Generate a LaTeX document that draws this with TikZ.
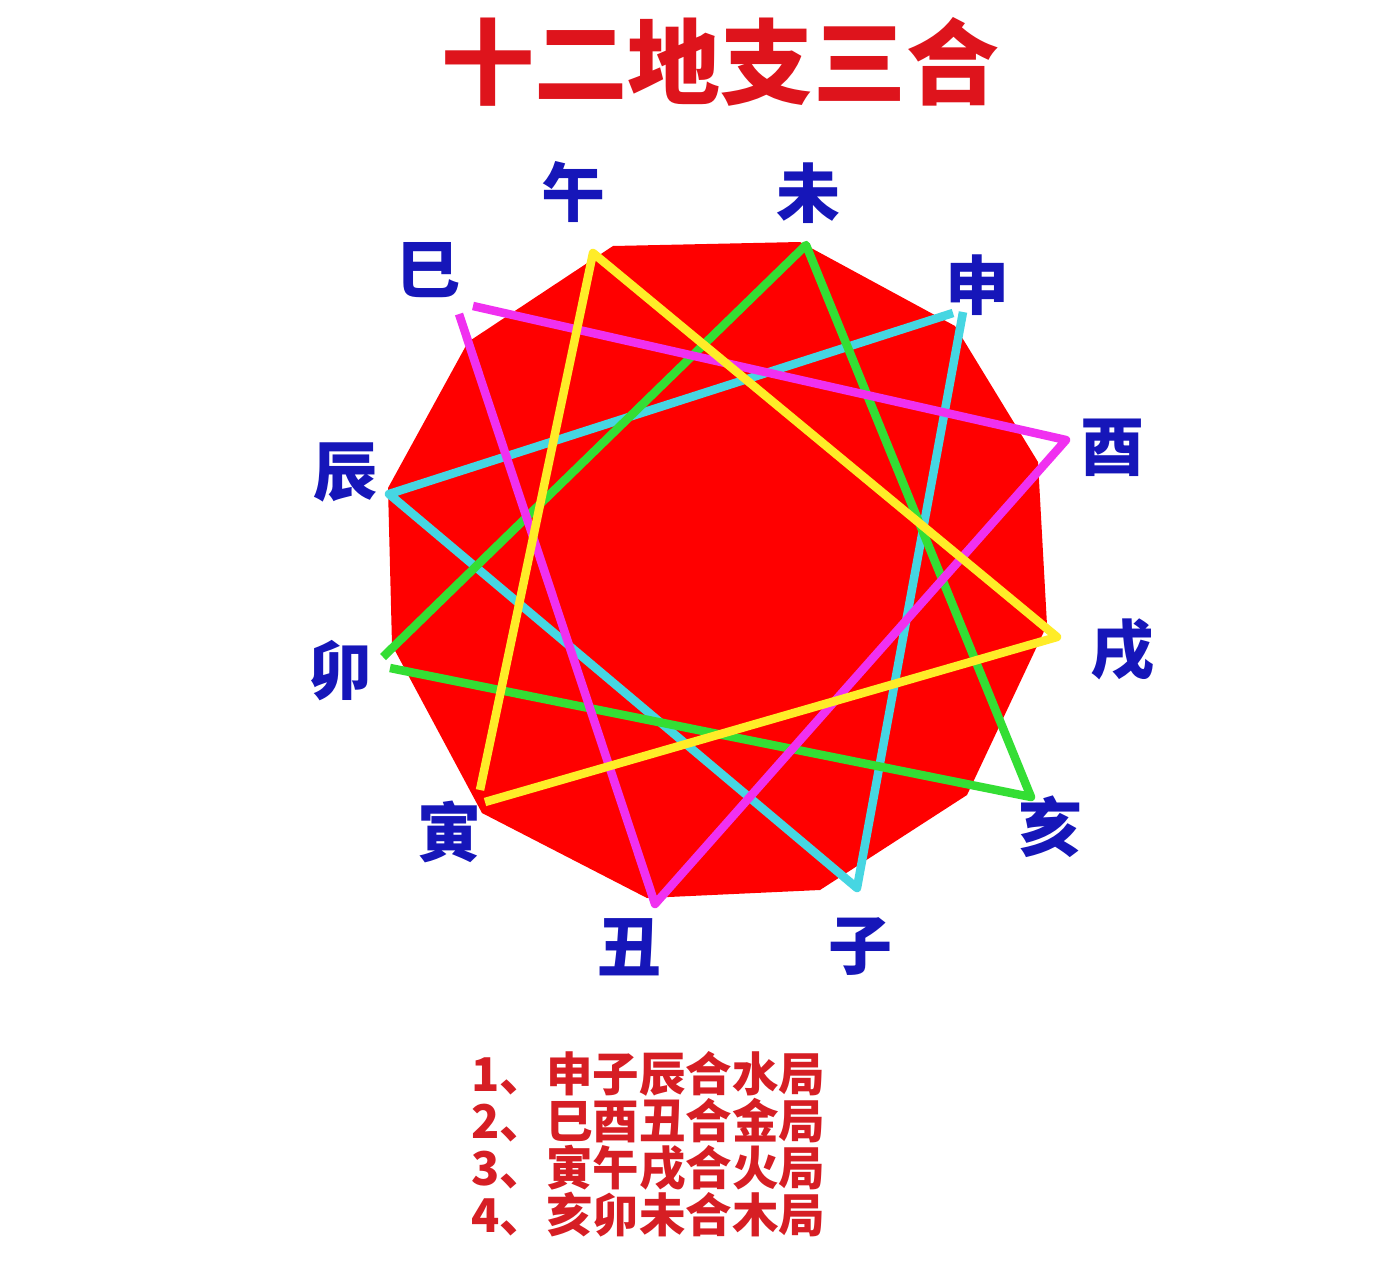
\documentclass[tikz,border=0pt]{standalone}
\usepackage{fontspec}
\newfontfamily\cjk{Noto Sans CJK SC}
\definecolor{polyred}{RGB}{255,0,0}
\definecolor{titlered}{RGB}{222,20,28}
\definecolor{listred}{RGB}{214,30,36}
\definecolor{labelblue}{RGB}{22,22,185}
\definecolor{watercyan}{RGB}{70,214,226}
\definecolor{metalmag}{RGB}{240,48,240}
\definecolor{fireyel}{RGB}{255,236,40}
\definecolor{woodgreen}{RGB}{52,222,52}
\tikzset{
  branch/.style={font=\cjk\bfseries\fontsize{64}{64}\selectfont, text=labelblue, inner sep=0pt, anchor=center},
  trine/.style={line width=8.5pt, line join=round},
  listline/.style={font=\cjk\bfseries\fontsize{46.5}{46.5}\selectfont, text=listred, inner sep=0pt, anchor=west}
}
\begin{document}
\begin{tikzpicture}[x=1pt,y=-1pt]
\fill[white] (0,0) rectangle (1394,1266);
\useasboundingbox (0,0) rectangle (1394,1266);
% title
\node[font=\cjk\bfseries\fontsize{93}{93}\selectfont, text=titlered, inner sep=0pt] (title) at (720,62) {十二地支三合};
% dodecagon
\coordinate (pA) at (613,246);
\coordinate (pB) at (800,242);
\coordinate (pC) at (955,326);
\coordinate (pD) at (1038,462);
\coordinate (pE) at (1047,625);
\coordinate (pF) at (967,795);
\coordinate (pG) at (820,890);
\coordinate (pH) at (647,898);
\coordinate (pI) at (482,813);
\coordinate (pJ) at (392,645);
\coordinate (pK) at (388,488);
\coordinate (pL) at (468,342);
\fill[polyred] (pA) -- (pB) -- (pC) -- (pD) -- (pE) -- (pF) -- (pG) -- (pH) -- (pI) -- (pJ) -- (pK) -- (pL) -- cycle;
% apex points
\coordinate (wu) at (593,253);
\coordinate (wei) at (806,245);
\coordinate (shenA) at (953,313);
\coordinate (shenB) at (963,312);
\coordinate (you) at (1066,440);
\coordinate (xu) at (1057,637);
\coordinate (hai) at (1031,797);
\coordinate (zi) at (857,888);
\coordinate (chou) at (655,904);
\coordinate (yinA) at (480,790);
\coordinate (yinB) at (485,802);
\coordinate (maoA) at (383,657);
\coordinate (maoB) at (390,668);
\coordinate (chen) at (389,494);
\coordinate (siA) at (473,306);
\coordinate (siB) at (459,314);
% water: shen-zi-chen
\draw[trine, watercyan] (shenB) -- (zi) -- (chen) -- (shenA);
% wood: hai-mao-wei
\draw[trine, woodgreen] (maoA) -- (wei) -- (hai) -- (maoB);
% metal: si-you-chou
\draw[trine, metalmag] (siA) -- (you) -- (chou) -- (siB);
% fire: yin-wu-xu
\draw[trine, fireyel] (yinA) -- (wu) -- (xu) -- (yinB);
% labels
\node[branch] (lwu) at (573,192) {午};
\node[branch] (lwei) at (808,193) {未};
\node[branch] (lsi) at (428,270) {巳};
\node[branch] (lshen) at (977,285) {申};
\node[branch] (lchen) at (345,472) {辰};
\node[branch] (lyou) at (1112,448) {酉};
\node[branch] (lmao) at (340,671) {卯};
\node[branch] (lxu) at (1122,650) {戌};
\node[branch] (lyin) at (449,832) {寅};
\node[branch] (lhai) at (1050,827) {亥};
\node[branch] (lchou) at (629,947) {丑};
\node[branch] (lzi) at (860,947) {子};
% list
\node[listline] (l1) at (471,1074) {1、申子辰合水局};
\node[listline] (l2) at (471,1121) {2、巳酉丑合金局};
\node[listline] (l3) at (471,1168) {3、寅午戌合火局};
\node[listline] (l4) at (471,1215) {4、亥卯未合木局};
\end{tikzpicture}
\end{document}
